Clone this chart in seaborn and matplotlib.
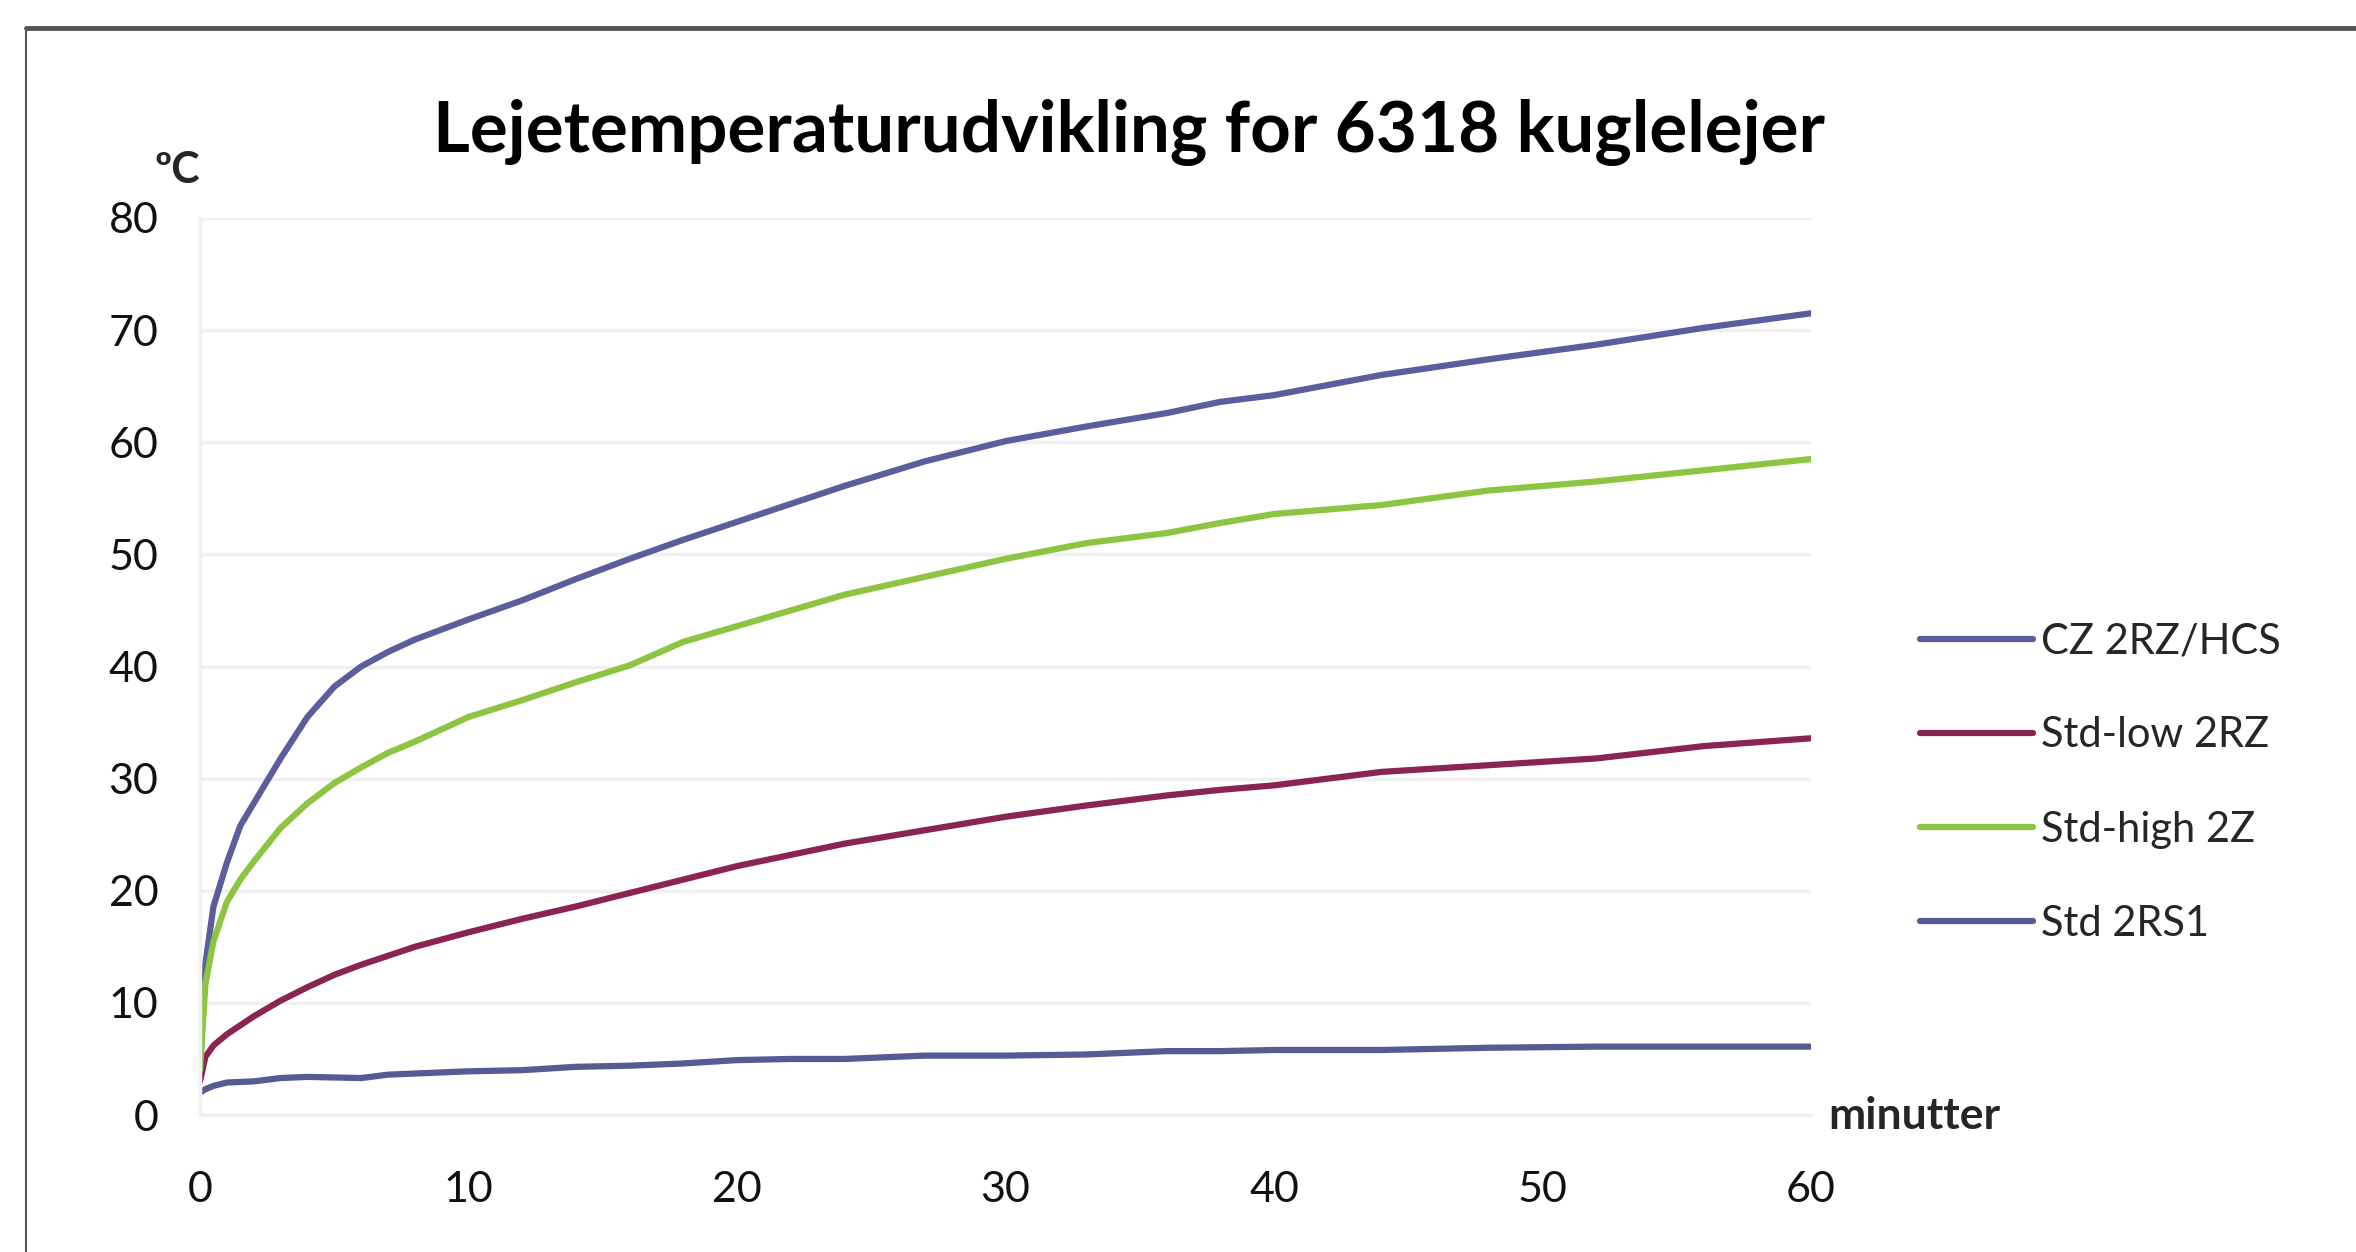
import numpy as np
import pandas as pd
import matplotlib
matplotlib.use("Agg")
import matplotlib.pyplot as plt
from matplotlib.lines import Line2D
import seaborn as sns

# values (minutes -> degrees C)
minutes = [0, 0.2, 0.5, 1, 1.5, 2, 3, 4, 5, 6, 7, 8, 10, 12, 14, 16, 18, 20,
           22, 24, 27, 30, 33, 36, 38, 40, 44, 48, 52, 56, 60]
cz_2rz_hcs = [4, 13.5, 18.6, 22.5, 25.8, 27.8, 31.8, 35.5, 38.2, 40, 41.3, 42.4,
              44.2, 45.9, 47.8, 49.6, 51.3, 52.9, 54.5, 56.1, 58.3, 60.1, 61.4,
              62.6, 63.6, 64.2, 66.0, 67.4, 68.7, 70.2, 71.5]
std_low_2rz = [3, 5.2, 6.2, 7.2, 8.0, 8.8, 10.2, 11.4, 12.5, 13.4, 14.2, 15.0,
               16.3, 17.5, 18.6, 19.8, 21.0, 22.2, 23.2, 24.2, 25.4, 26.6, 27.6,
               28.5, 29.0, 29.4, 30.6, 31.2, 31.8, 32.9, 33.6]
std_high_2z = [4, 11.7, 15.5, 19.0, 21.0, 22.6, 25.6, 27.8, 29.6, 31.0, 32.3, 33.3,
               35.5, 37.0, 38.6, 40.1, 42.2, 43.6, 45.0, 46.4, 48.0, 49.6, 51.0,
               51.9, 52.8, 53.6, 54.4, 55.7, 56.5, 57.5, 58.5]
std_2rs1 = [2, 2.3, 2.6, 2.9, 2.95, 3.0, 3.3, 3.4, 3.35, 3.3, 3.6, 3.7,
            3.9, 4.0, 4.3, 4.4, 4.6, 4.9, 5.0, 5.0, 5.3, 5.3, 5.4,
            5.7, 5.7, 5.8, 5.8, 6.0, 6.1, 6.1, 6.1]

series_names = ["CZ 2RZ/HCS", "Std-low 2RZ", "Std-high 2Z", "Std 2RS1"]
series_values = [cz_2rz_hcs, std_low_2rz, std_high_2z, std_2rs1]
colors = ["#5b5d9c", "#8a2452", "#8dc441", "#565b94"]

x_ticks = [0, 10, 20, 30, 40, 50, 60]
y_ticks = [0, 10, 20, 30, 40, 50, 60, 70, 80]

df = pd.concat([pd.DataFrame({"minutter": minutes, "temp": vals, "serie": name})
                for name, vals in zip(series_names, series_values)],
               ignore_index=True)

sns.set_style("white")
plt.rcParams['font.family'] = ['Lato', 'DejaVu Sans']

fig = plt.figure(figsize=(23.56, 12.52), dpi=100)
ax = fig.add_axes([0.0849, 0.1094, 0.6838, 0.7165])

sns.lineplot(data=df, x="minutter", y="temp", hue="serie", hue_order=series_names,
             palette=dict(zip(series_names, colors)), linewidth=4.5,
             errorbar=None, legend=False, ax=ax)

ax.set_xlim(0, 60)
ax.set_ylim(0, 80)
ax.set_xticks(x_ticks)
ax.set_yticks(y_ticks)
ax.set_xlabel("")
ax.set_ylabel("")
ax.grid(axis='y', color='#f0f0f0', linewidth=2.5)
ax.set_axisbelow(True)
for side in ["top", "right"]:
    ax.spines[side].set_visible(False)
for side in ["left", "bottom"]:
    ax.spines[side].set_color('#f0f0f0')
    ax.spines[side].set_linewidth(2.5)
ax.tick_params(axis='y', length=0, pad=30, labelsize=31, labelcolor='#111111')
ax.tick_params(axis='x', length=0, pad=40, labelsize=31, labelcolor='#111111')

fig.text(0.479, 0.894, "Lejetemperaturudvikling for 6318 kuglelejer",
         ha='center', va='center', fontsize=51, fontweight='bold', color='black')
fig.text(0.075, 0.864, "ºC", ha='center', va='center', fontsize=31, fontweight='bold')
fig.text(0.776, 0.109, "minutter", ha='left', va='center', fontsize=32, fontweight='bold')

handles = [Line2D([0], [0], color=c, linewidth=4.5) for c in colors]
fig.legend(handles, series_names, loc='center left', bbox_to_anchor=(0.815, 0.375),
           frameon=False, fontsize=30, handlelength=2.7, handletextpad=0.2,
           labelspacing=1.35, borderpad=0, borderaxespad=0)

# frame of the original chart area (top and left edges visible)
fig.add_artist(Line2D([0.011, 1.0], [0.9776, 0.9776], color='#555555', linewidth=3.5))
fig.add_artist(Line2D([0.011, 0.011], [0.0, 0.9776], color='#555555', linewidth=1.5))

plt.savefig("out.png", dpi=100)
plt.close()
